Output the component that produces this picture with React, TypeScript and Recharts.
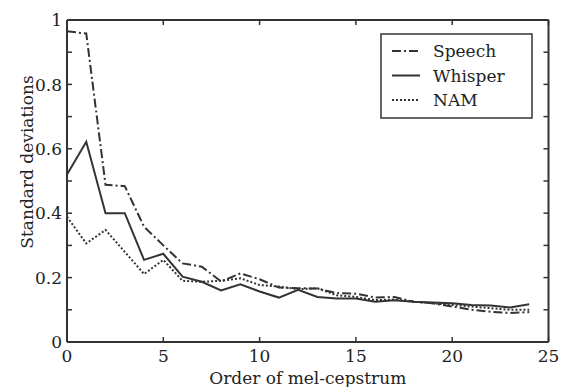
import React from 'react';
import { LineChart, Line, XAxis, YAxis } from 'recharts';

const orders = [0, 1, 2, 3, 4, 5, 6, 7, 8, 9, 10, 11, 12, 13, 14, 15, 16, 17, 18, 19, 20, 21, 22, 23, 24];
const speech = [0.965, 0.958, 0.488, 0.484, 0.358, 0.3, 0.244, 0.234, 0.188, 0.213, 0.195, 0.169, 0.167, 0.166, 0.152, 0.15, 0.138, 0.14, 0.125, 0.12, 0.11, 0.1, 0.094, 0.09, 0.093];
const whisper = [0.52, 0.622, 0.4, 0.4, 0.255, 0.274, 0.203, 0.187, 0.16, 0.179, 0.157, 0.138, 0.162, 0.14, 0.135, 0.135, 0.125, 0.13, 0.125, 0.123, 0.12, 0.115, 0.113, 0.107, 0.117];
const nam = [0.389, 0.306, 0.348, 0.28, 0.211, 0.255, 0.19, 0.187, 0.19, 0.198, 0.177, 0.172, 0.164, 0.167, 0.145, 0.14, 0.13, 0.132, 0.125, 0.12, 0.115, 0.11, 0.105, 0.1, 0.1];

const xTicks = [0, 5, 10, 15, 20, 25];
const yTicks = [0, 0.1, 0.2, 0.3, 0.4, 0.5, 0.6, 0.7, 0.8, 0.9, 1];
const yLabelTicks = [0, 0.2, 0.4, 0.6, 0.8, 1];

const seriesNames = ['Speech', 'Whisper', 'NAM'];
const xTitle = 'Order of mel-cepstrum';
const yTitle = 'Standard deviations';

const data = orders.map((o, i) => ({ order: o, speech: speech[i], whisper: whisper[i], nam: nam[i] }));

const INK = '#333333';
const FONT = 'DejaVu Serif';
const FS = 17;
const DASH_SPEECH = '9 3 2 3';
const DASH_NAM = '2 2';

const fmt = (v: number) => {
  const r = Math.round(v * 10) / 10;
  return r === 0 ? '0' : r === 1 ? '1' : String(r);
};

const BottomTick = (p: any) => (
  <g>
    <line x1={p.x} x2={p.x} y1={p.y} y2={p.y - 5} stroke={INK} strokeWidth={1.5} />
    <text x={p.x} y={p.y + 20} textAnchor="middle" fontFamily={FONT} fontSize={FS} fill="#222">
      {p.payload.value}
    </text>
  </g>
);

const TopTick = (p: any) => (
  <line x1={p.x} x2={p.x} y1={p.y} y2={p.y + 5} stroke={INK} strokeWidth={1.5} />
);

const LeftTick = (p: any) => {
  const v = p.payload.value;
  const show = yLabelTicks.some((t) => Math.abs(t - v) < 1e-6);
  return (
    <g>
      <line x1={p.x} x2={p.x + 5} y1={p.y} y2={p.y} stroke={INK} strokeWidth={1.5} />
      {show && (
        <text x={p.x - 5} y={p.y} dy="0.36em" textAnchor="end" fontFamily={FONT} fontSize={FS} fill="#222">
          {fmt(v)}
        </text>
      )}
    </g>
  );
};

const RightTick = (p: any) => (
  <line x1={p.x} x2={p.x - 5} y1={p.y} y2={p.y} stroke={INK} strokeWidth={1.5} />
);

const XTitle = (p: any) => {
  const vb = p.viewBox || { x: 67, y: 342, width: 481 };
  return (
    <text x={vb.x + vb.width / 2} y={vb.y + 42} textAnchor="middle" fontFamily={FONT} fontSize={FS} fill="#222">
      {xTitle}
    </text>
  );
};

const YTitle = (p: any) => {
  const vb = p.viewBox || { x: 0, y: 20, width: 67, height: 322 };
  const cx = 33;
  const cy = vb.y + vb.height / 2 - 19;
  return (
    <text x={cx} y={cy} transform={`rotate(-90 ${cx} ${cy})`} textAnchor="middle" fontFamily={FONT} fontSize={FS} fill="#222">
      {yTitle}
    </text>
  );
};

const LegendBox = () => {
  const rows = [
    { name: seriesNames[0], dash: DASH_SPEECH },
    { name: seriesNames[1], dash: undefined },
    { name: seriesNames[2], dash: DASH_NAM },
  ];
  return (
    <svg width={153} height={86} style={{ display: 'block' }}>
      <rect x={1} y={1} width={151} height={84} fill="#fff" stroke={INK} strokeWidth={1.5} />
      {rows.map((r, i) => {
        const cy = 18 + i * 24.5;
        return (
          <g key={r.name}>
            <line x1={12} x2={40} y1={cy} y2={cy} stroke={INK} strokeWidth={2} strokeDasharray={r.dash} />
            <text x={53} y={cy} dy="0.36em" fontFamily={FONT} fontSize={FS} fill="#222">
              {r.name}
            </text>
          </g>
        );
      })}
    </svg>
  );
};

export default function App() {
  return (
    <div style={{ position: 'absolute', left: 0, top: 0, width: 563, height: 387, background: '#fff' }}>
      <LineChart width={563} height={387} data={data} margin={{ top: 19, right: 13.5, left: 0, bottom: 0 }}>
        <XAxis
          dataKey="order"
          type="number"
          domain={[0, 25]}
          ticks={xTicks}
          height={45}
          tickSize={0}
          tickMargin={0}
          tickLine={false}
          tick={<BottomTick />}
          axisLine={{ stroke: INK, strokeWidth: 2 }}
          interval={0}
          label={<XTitle />}
        />
        <XAxis
          xAxisId="top"
          dataKey="order"
          orientation="top"
          type="number"
          domain={[0, 25]}
          ticks={xTicks}
          height={1}
          tickSize={0}
          tickMargin={0}
          tickLine={false}
          tick={<TopTick />}
          axisLine={{ stroke: INK, strokeWidth: 2 }}
          interval={0}
        />
        <YAxis
          type="number"
          domain={[0, 1]}
          ticks={yTicks}
          width={67}
          tickSize={0}
          tickMargin={0}
          tickLine={false}
          tick={<LeftTick />}
          axisLine={{ stroke: INK, strokeWidth: 2 }}
          interval={0}
          label={<YTitle />}
        />
        <YAxis
          yAxisId="right"
          orientation="right"
          type="number"
          domain={[0, 1]}
          ticks={yTicks}
          width={1}
          tickSize={0}
          tickMargin={0}
          tickLine={false}
          tick={<RightTick />}
          axisLine={{ stroke: INK, strokeWidth: 2 }}
          interval={0}
        />
        <Line xAxisId="top" yAxisId="right" dataKey="speech" name={seriesNames[0]} stroke={INK} strokeWidth={2} strokeDasharray={DASH_SPEECH} dot={false} isAnimationActive={false} type="linear" />
        <Line dataKey="whisper" name={seriesNames[1]} stroke={INK} strokeWidth={2} dot={false} isAnimationActive={false} type="linear" />
        <Line dataKey="nam" name={seriesNames[2]} stroke={INK} strokeWidth={2} strokeDasharray={DASH_NAM} dot={false} isAnimationActive={false} type="linear" />
      </LineChart>
      <div style={{ position: 'absolute', left: 380, top: 33 }}>
        <LegendBox />
      </div>
    </div>
  );
}
